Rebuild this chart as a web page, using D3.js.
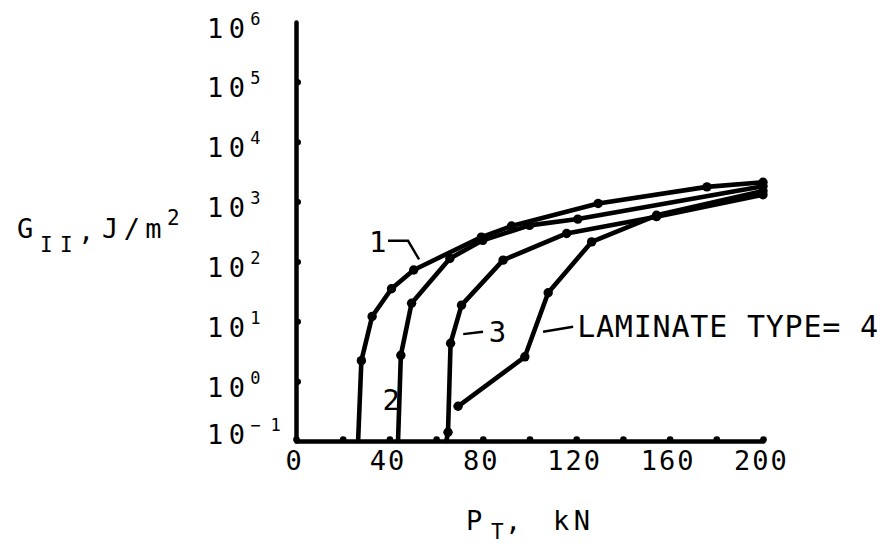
<!DOCTYPE html>
<html>
<head>
<meta charset="utf-8">
<script src="https://cdn.jsdelivr.net/npm/d3@7"></script>
<style>
  html, body { margin: 0; padding: 0; background: #fff; }
  svg { display: block; }
  text { font-family: "DejaVu Sans Mono", "Liberation Mono", monospace; fill: #000; }
</style>
</head>
<body>
<svg id="chart" width="890" height="546"></svg>
<script>
// ---------- data ----------
const xDomain = [0, 200];
const yDomain = [0.1, 1e6];
const xTickValues = [0, 20, 40, 60, 80, 100, 120, 140, 160, 180, 200];
const xTickLabels = [0, 40, 80, 120, 160, 200];
const yTickExponents = [-1, 0, 1, 2, 3, 4, 5, 6];

// laminate type 1..4 : [P_T (kN), G_II (J/m^2)]
const curve1 = [[26.6, 0.1], [28, 2.2], [32.6, 12], [40.9, 35], [50.4, 72], [79.4, 255], [92.3, 390], [129.4, 930], [176, 1760], [200, 2100]];
const curve2 = [[43.7, 0.1], [44.9, 2.7], [49.5, 20], [65.9, 112], [80, 225], [100, 400], [120.7, 510], [200, 1800]];
const curve3 = [[64.4, 0.1], [65.1, 0.14], [66.2, 4.3], [70.9, 18.6], [88.7, 105], [115.9, 293], [154.4, 560], [200, 1300]];
const curve4 = [[69.4, 0.38], [98, 2.55], [108, 30], [126.6, 212], [154.4, 590], [200, 1500]];
const curves = [curve1, curve2, curve3, curve4];

// annotation text and leader lines (data coordinates)
const labelTexts = ["1", "2", "3", "LAMINATE TYPE= 4"];
const labelAnchors = [[31.3, 143], [37.0, 0.33], [82.5, 4.55], [120.4, 5.4]];
const leaders = [
  [[39.4, 221], [48, 221], [52.7, 108]],
  [],
  [[71.6, 6.1], [80.1, 6.7]],
  [[105.8, 6.7], [118.7, 8.1]]
];

// ---------- chart ----------
const svg = d3.select("#chart");
const x = d3.scaleLinear().domain(xDomain).range([296, 763]);
const y = d3.scaleLog().domain(yDomain).range([441, 22]);

const BIG = 27, SMALL = 17;

// axes
const xAxis = d3.axisBottom(x).tickValues(xTickValues).tickSize(0).tickFormat("");
const gx = svg.append("g").attr("transform", `translate(0,${y(yDomain[0])})`).call(xAxis);
gx.select(".domain").attr("stroke", "#000").attr("stroke-width", 4.5).attr("stroke-linecap", "round");
gx.selectAll(".tick").append("circle").attr("r", 3.3).attr("cy", -1.5).attr("fill", "#000");
gx.selectAll(".tick")
  .filter(d => xTickLabels.includes(d))
  .append("text")
  .attr("y", 29).attr("dx", -2).attr("text-anchor", "middle")
  .style("font-size", BIG + "px").style("letter-spacing", "2px")
  .text(d => d);

const yTickValues = yTickExponents.map(e => Math.pow(10, e));
const yAxis = d3.axisLeft(y).tickValues(yTickValues).tickSize(0).tickFormat("");
const gy = svg.append("g").attr("transform", `translate(${x(0)},0)`).call(yAxis);
gy.select(".domain").attr("stroke", "#000").attr("stroke-width", 4.5).attr("stroke-linecap", "round");
gy.selectAll(".tick").filter(d => d > yDomain[0] && d < yDomain[1])
  .append("circle").attr("r", 3).attr("cx", 2).attr("fill", "#000");
const tl = gy.selectAll(".tick").append("text")
  .attr("x", -89)
  .attr("y", d => (d === yDomain[0] ? 2 : 15))
  .attr("text-anchor", "start");
tl.append("tspan").style("font-size", BIG + "px").style("letter-spacing", "5.4px").text("10");
tl.append("tspan")
  .attr("dy", -13)
  .style("font-size", SMALL + "px").style("letter-spacing", "10px")
  .text(d => { const e = Math.round(Math.log10(d)); return e < 0 ? "\u2212" + (-e) : String(e); });

// curves
const line = d3.line().x(d => x(d[0])).y(d => y(d[1]));
const gc = svg.append("g");
curves.forEach(c => {
  gc.append("path").datum(c)
    .attr("d", line)
    .attr("fill", "none").attr("stroke", "#000")
    .attr("stroke-width", 4.6).attr("stroke-linejoin", "round").attr("stroke-linecap", "round");
  gc.selectAll(null).data(c.filter(d => d[1] > yDomain[0])).enter()
    .append("circle")
    .attr("cx", d => x(d[0])).attr("cy", d => y(d[1]))
    .attr("r", 4.7).attr("fill", "#000");
});

// annotations
const ga = svg.append("g");
leaders.forEach(l => {
  if (l.length) ga.append("path").datum(l).attr("d", line)
    .attr("fill", "none").attr("stroke", "#000").attr("stroke-width", 2.4);
});
labelTexts.forEach((t, i) => {
  ga.append("text")
    .attr("x", x(labelAnchors[i][0])).attr("y", y(labelAnchors[i][1]))
    .style("font-size", (i === 3 ? 30 : 29) + "px")
    .style("letter-spacing", i === 3 ? "0.8px" : "0px")
    .text(t);
});

// axis titles
const xt = svg.append("g");
xt.append("text").attr("x", 466).attr("y", 530).style("font-size", BIG + "px").text("P");
xt.append("text").attr("x", 491).attr("y", 539).style("font-size", "21px").text("T");
xt.append("text").attr("x", 505).attr("y", 530).style("font-size", BIG + "px").text(",");
xt.append("text").attr("x", 553).attr("y", 530).style("font-size", BIG + "px").style("letter-spacing", "4.5px").text("kN");

const yt = svg.append("g");
yt.append("text").attr("x", 17).attr("y", 238).style("font-size", BIG + "px").text("G");
yt.append("text").attr("x", 40).attr("y", 252).style("font-size", "21px").style("letter-spacing", "7.4px").text("II");
yt.append("text").attr("x", 78).attr("y", 240).style("font-size", BIG + "px").text(",");
yt.append("text").attr("x", 102).attr("y", 238).style("font-size", BIG + "px").style("letter-spacing", "5.4px").text("J/m");
yt.append("text").attr("x", 167).attr("y", 225).style("font-size", "21px").text("2");
</script>
</body>
</html>
